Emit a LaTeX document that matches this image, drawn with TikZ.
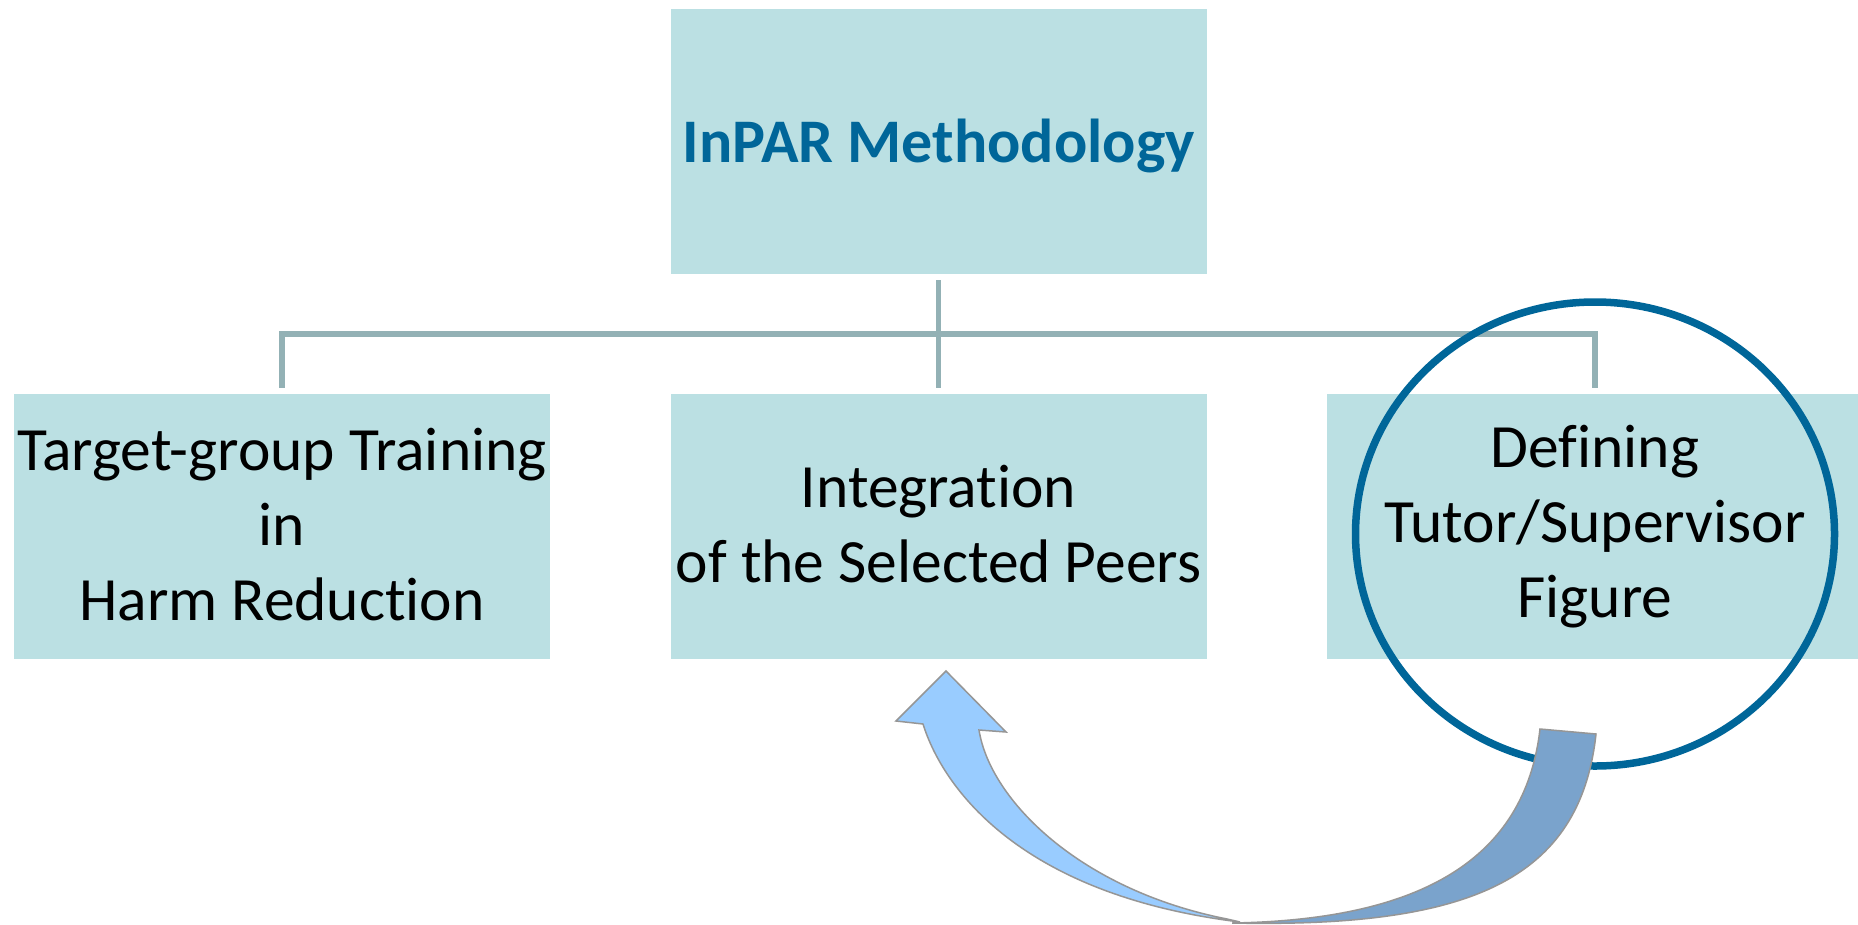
\documentclass[tikz,border=0pt]{standalone}
\usepackage{fontspec}
\setmainfont[Ligatures=NoCommon]{Carlito}
\definecolor{boxfill}{RGB}{187,224,227}
\definecolor{connline}{RGB}{147,177,181}
\definecolor{deepblue}{RGB}{0,102,153}
\definecolor{arrowlight}{RGB}{153,204,255}
\definecolor{arrowdark}{RGB}{122,163,204}
\definecolor{arrowedge}{RGB}{150,150,150}
\begin{document}
\begin{tikzpicture}[x=1pt,y=-1pt,
  boxbase/.style={rectangle, fill=boxfill, draw=none, inner sep=0pt,
    minimum width=536pt, minimum height=265pt, align=center},
  box/.style={boxbase, font=\fontsize{61.5}{75}\selectfont,
    execute at begin node=\rule{0pt}{74pt},
    execute at end node=\rule[-4.4pt]{0pt}{4.4pt}},
  titlebox/.style={boxbase, font=\fontsize{62}{75}\selectfont\bfseries,
    text=deepblue,
    execute at begin node=\rule{0pt}{56pt},
    execute at end node=\rule[-13.6pt]{0pt}{13.6pt}},
  conn/.style={draw=connline, line width=5.7pt},
  ring/.style={draw=deepblue, line width=7.5pt},
  bentarrow/.style={draw=arrowedge, line width=1.5pt, line join=miter}]
\useasboundingbox (0,0) rectangle (1858,924);
\clip (0,0) rectangle (1858,924);
\fill[white] (0,0) rectangle (1858,924);

% the four boxes
\node[titlebox] (top) at (938.5,141.5) {InPAR Methodology};
\node[box] (left) at (282,526.5) {Target-group Training\\in\\Harm Reduction};
\node[box] (mid) at (938.5,526.5) {Integration\\of the Selected Peers};
\node[box] (right) at (1595,526.5) {Defining\\Tutor/Supervisor\\Figure};

% tree connectors
\draw[conn] ([yshift=-6pt]top.south) -- ([yshift=6pt]mid.north);
\draw[conn] ([yshift=6pt]left.north) -- ++(0,-53.5) -| ([yshift=6pt]right.north);

% highlight ring round the third box
\draw[ring] (1595,534) ellipse [x radius=239.5, y radius=232];

% curved arrow: light front band with head
\filldraw[bentarrow, fill=arrowlight]
  (946,671) -- (1006,732) -- (979,730)
  .. controls (990,800) and (1080,890) .. (1227,919)
  -- (1240,922)
  .. controls (1020,895) and (943,788) .. (923,724)
  -- (896,721) -- cycle;
% curved arrow: darker back band with tail
\filldraw[bentarrow, fill=arrowdark]
  (1540,729) -- (1596,734)
  .. controls (1580,880) and (1470,928) .. (1232,923)
  .. controls (1420,920) and (1525,860) .. (1540,729) -- cycle;
\end{tikzpicture}
\end{document}
